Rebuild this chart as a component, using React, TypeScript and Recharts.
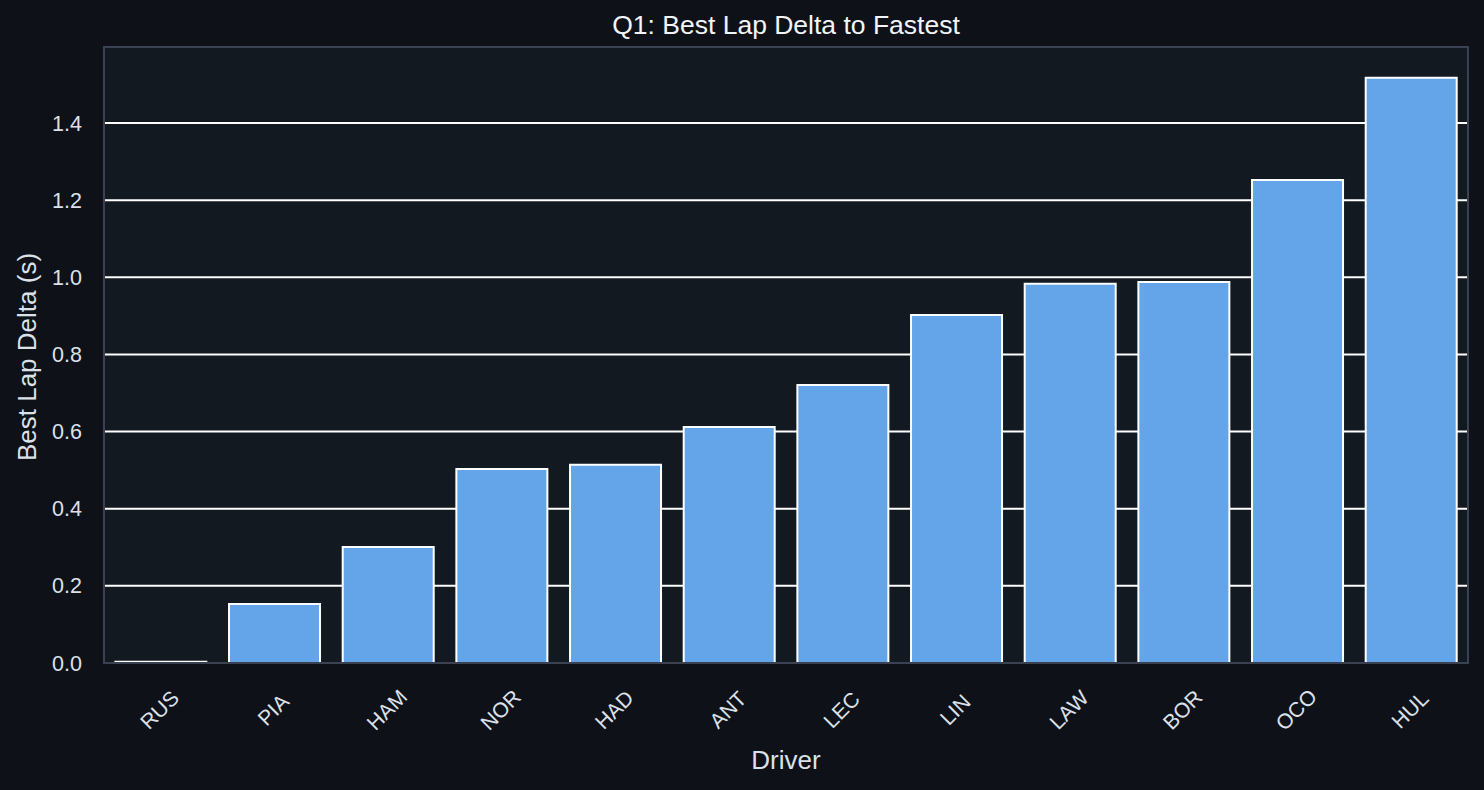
import { BarChart, Bar, XAxis, YAxis, CartesianGrid } from "recharts";

const drivers = ["RUS", "PIA", "HAM", "NOR", "HAD", "ANT", "LEC", "LIN", "LAW", "BOR", "OCO", "HUL"];
const deltas = [0.003, 0.153, 0.301, 0.503, 0.514, 0.612, 0.721, 0.902, 0.983, 0.988, 1.252, 1.517];
const yTicks = [0, 0.2, 0.4, 0.6, 0.8, 1.0, 1.2, 1.4];

const data = drivers.map((name, i) => ({ name, delta: deltas[i] }));

const W = 1484;
const H = 790;
const plot = { left: 104, top: 47, right: 1468, bottom: 663 };
const font = "'Liberation Sans', Arial, sans-serif";
const textColor = "#dce1e9";

function XTick({ x, y, payload }: any) {
  const cy = y + 40;
  return (
    <text
      x={x}
      y={cy}
      transform={`rotate(-45, ${x}, ${cy})`}
      textAnchor="middle"
      dominantBaseline="middle"
      fill={textColor}
      fontSize={21}
      fontFamily={font}
    >
      {payload.value}
    </text>
  );
}

export default function App() {
  const cx = (plot.left + plot.right) / 2;
  const cy = (plot.top + plot.bottom) / 2 + 2;
  return (
    <div style={{ position: "fixed", left: 0, top: 0, width: W, height: H, background: "#0e1118" }}>
      <div
        style={{
          position: "absolute",
          left: plot.left,
          top: plot.top,
          width: plot.right - plot.left,
          height: plot.bottom - plot.top,
          background: "#131920",
        }}
      />
      <div style={{ position: "absolute", left: 0, top: 0 }}>
        <BarChart
          width={W}
          height={H}
          data={data}
          barCategoryGap="10%"
          margin={{ top: plot.top, right: W - plot.right, bottom: 47, left: 30 }}
        >
          <CartesianGrid vertical={false} stroke="#ffffff" strokeWidth={2} />
          <XAxis dataKey="name" height={80} axisLine={false} tickLine={false} tick={<XTick />} interval={0} />
          <YAxis
            width={74}
            domain={[0, 1.597]}
            ticks={yTicks}
            tickFormatter={(v: number) => v.toFixed(1)}
            axisLine={false}
            tickLine={false}
            tick={{ fill: textColor, fontSize: 21.5, fontFamily: font }}
            tickMargin={16}
          />
          <Bar dataKey="delta" fill="#64a4e8" stroke="#ffffff" strokeWidth={2} isAnimationActive={false} />
        </BarChart>
      </div>
      <div
        style={{
          position: "absolute",
          boxSizing: "border-box",
          left: plot.left - 1,
          top: plot.top - 1,
          width: plot.right - plot.left + 2,
          height: plot.bottom - plot.top + 2,
          border: "2px solid #3a4150",
          pointerEvents: "none",
        }}
      />
      <svg width={W} height={H} style={{ position: "absolute", left: 0, top: 0, pointerEvents: "none" }}>
        <text x={cx} y={34} textAnchor="middle" fill="#f2f4f7" fontSize={26.5} fontFamily={font}>
          Q1: Best Lap Delta to Fastest
        </text>
        <text x={cx} y={769} textAnchor="middle" fill={textColor} fontSize={26} fontFamily={font}>
          Driver
        </text>
        <text
          x={36}
          y={cy}
          transform={`rotate(-90, 36, ${cy})`}
          textAnchor="middle"
          fill={textColor}
          fontSize={26}
          fontFamily={font}
        >
          Best Lap Delta (s)
        </text>
      </svg>
    </div>
  );
}
